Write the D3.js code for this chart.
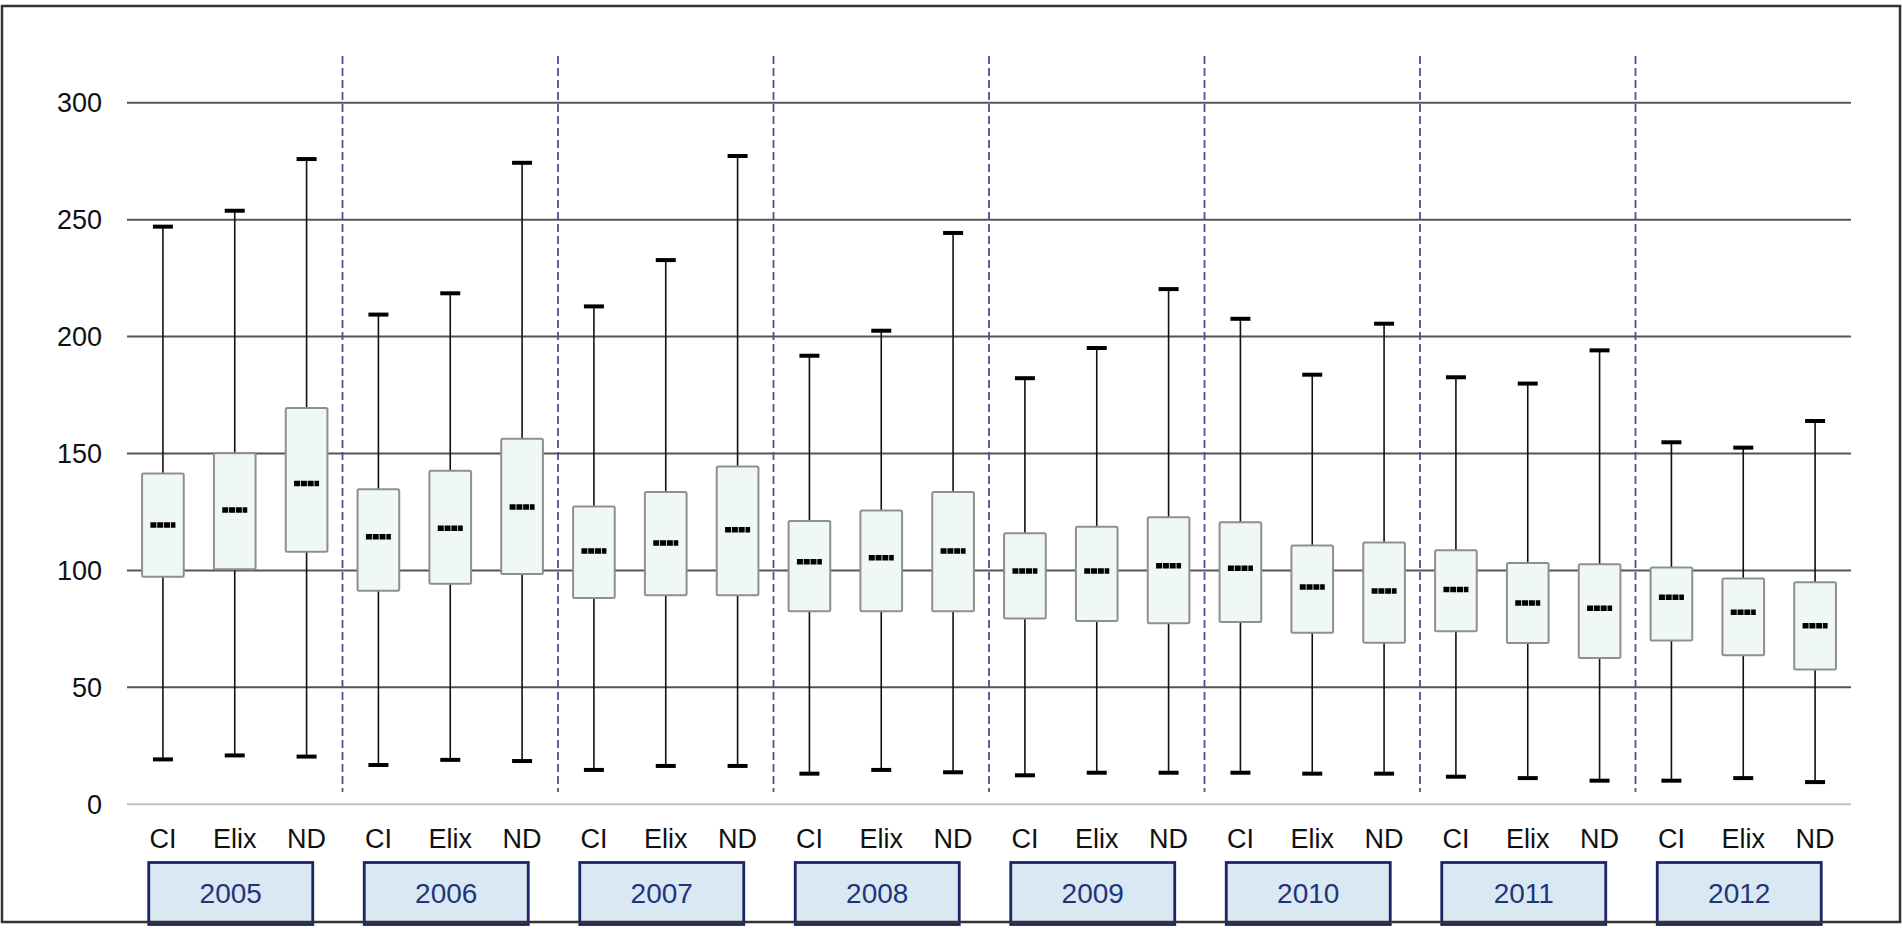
<!DOCTYPE html>
<html lang="en">
<head>
    <meta charset="UTF-8">
    <title>Box plots by year and index</title>
    <style>
        body {
            margin: 0;
            padding: 0;
            background-color: #ffffff;
            overflow: hidden;
        }
        svg {
            display: block;
            font-family: 'Liberation Sans', Arial, sans-serif;
        }
        .grid line {
            stroke: #555555;
            stroke-width: 2px;
        }
        .grid .zero {
            stroke: #c0c0c0;
        }
        .separator {
            stroke: #4f4f90;
            stroke-width: 1.8px;
            stroke-dasharray: 8 4;
        }
        .whisker {
            stroke: #111111;
            stroke-width: 1.6px;
        }
        .cap {
            stroke: #000000;
            stroke-width: 4px;
        }
        .box {
            fill: #f0f8f7;
            stroke: #8f8f8f;
            stroke-width: 2px;
        }
        .median {
            stroke: #000000;
            stroke-width: 5.5px;
            stroke-dasharray: 6 0.8;
        }
        .tick-label, .cat-label {
            font-size: 27px;
            fill: #111111;
        }
        .year-box {
            fill: #dae8f4;
            stroke: #1a2666;
            stroke-width: 2.8px;
        }
        .year-label {
            font-size: 28px;
            fill: #1f3578;
        }
    </style>
</head>
<body>
    <div id="chart"></div>

    <script src="https://d3js.org/d3.v7.min.js"></script>
    <script>
        // data
        const years = ['2005', '2006', '2007', '2008', '2009', '2010', '2011', '2012'];
        const methods = ['CI', 'Elix', 'ND'];
        const yTicks = [0, 50, 100, 150, 200, 250, 300];

        // one row per year, columns CI / Elix / ND
        const whiskerHigh = [
            [247.0, 253.8, 275.9],
            [209.4, 218.5, 274.3],
            [212.9, 232.7, 277.2],
            [191.8, 202.5, 244.3],
            [182.2, 195.1, 220.3],
            [207.6, 183.7, 205.5],
            [182.6, 179.9, 194.1],
            [154.8, 152.5, 163.9]
        ];
        const q3 = [
            [141.5, 150.1, 169.5],
            [134.7, 142.6, 156.3],
            [127.3, 133.5, 144.4],
            [121.1, 125.6, 133.5],
            [115.9, 118.7, 122.7],
            [120.6, 110.7, 111.9],
            [108.6, 103.2, 102.6],
            [101.3, 96.6, 94.9]
        ];
        const medians = [
            [119.4, 125.8, 137.2],
            [114.4, 118.0, 127.1],
            [108.3, 111.7, 117.4],
            [103.7, 105.4, 108.3],
            [99.8, 99.8, 102.0],
            [100.9, 92.9, 91.2],
            [91.8, 86.1, 83.8],
            [88.5, 82.1, 76.4]
        ];
        const q1 = [
            [97.3, 100.5, 108.0],
            [91.3, 94.3, 98.5],
            [88.2, 89.4, 89.4],
            [82.5, 82.5, 82.5],
            [79.5, 78.4, 77.4],
            [77.9, 73.4, 69.1],
            [74.0, 69.0, 62.6],
            [70.0, 63.7, 57.6]
        ];
        const whiskerLow = [
            [19.2, 20.9, 20.4],
            [16.8, 19.0, 18.5],
            [14.7, 16.4, 16.4],
            [13.1, 14.7, 13.7],
            [12.4, 13.5, 13.5],
            [13.5, 13.1, 13.1],
            [11.8, 11.2, 10.1],
            [10.1, 11.2, 9.5]
        ];

        const width = 1903;
        const height = 929;

        // flatten into one record per box
        const boxes = [];
        years.forEach((year, yi) => {
            methods.forEach((m, mi) => {
                boxes.push({
                    key: year + '-' + m,
                    year: year,
                    method: m,
                    hi: whiskerHigh[yi][mi],
                    q3: q3[yi][mi],
                    med: medians[yi][mi],
                    q1: q1[yi][mi],
                    lo: whiskerLow[yi][mi]
                });
            });
        });

        const x = d3.scaleBand()
            .domain(boxes.map(d => d.key))
            .range([127, 1851])
            .paddingInner(0.42)
            .paddingOuter(0.21);

        const xGroup = d3.scaleBand()
            .domain(years)
            .range([127, 1851]);

        const y = d3.scaleLinear()
            .domain([0, 300])
            .range([804.3, 102.7]);

        const cx = d => x(d.key) + x.bandwidth() / 2;
        const capHalf = 10;
        const medHalf = 12.5;

        const svg = d3.select('#chart')
            .append('svg')
            .attr('width', width)
            .attr('height', height);

        // horizontal gridlines
        const grid = svg.append('g').attr('class', 'grid');
        grid.selectAll('line')
            .data(yTicks)
            .enter().append('line')
            .attr('class', d => d === 0 ? 'zero' : null)
            .attr('x1', 127)
            .attr('x2', 1851)
            .attr('y1', d => y(d))
            .attr('y2', d => y(d));

        // y tick labels
        svg.append('g').selectAll('text')
            .data(yTicks)
            .enter().append('text')
            .attr('class', 'tick-label')
            .attr('x', 102)
            .attr('y', d => y(d))
            .attr('dy', '0.36em')
            .attr('text-anchor', 'end')
            .text(d => d);

        // dashed separators between years
        svg.append('g').selectAll('line')
            .data(years.slice(1))
            .enter().append('line')
            .attr('class', 'separator')
            .attr('x1', d => xGroup(d))
            .attr('x2', d => xGroup(d))
            .attr('y1', 56)
            .attr('y2', 792);

        const g = svg.append('g').selectAll('g')
            .data(boxes)
            .enter().append('g');

        g.append('line')
            .attr('class', 'whisker')
            .attr('x1', cx).attr('x2', cx)
            .attr('y1', d => y(d.hi))
            .attr('y2', d => y(d.lo));

        g.append('rect')
            .attr('class', 'box')
            .attr('x', d => x(d.key))
            .attr('width', x.bandwidth())
            .attr('y', d => y(d.q3))
            .attr('height', d => y(d.q1) - y(d.q3))
            .attr('rx', 1.5);

        g.append('line')
            .attr('class', 'median')
            .attr('x1', d => cx(d) - medHalf)
            .attr('x2', d => cx(d) + medHalf)
            .attr('y1', d => y(d.med))
            .attr('y2', d => y(d.med));

        g.append('line')
            .attr('class', 'cap')
            .attr('x1', d => cx(d) - capHalf)
            .attr('x2', d => cx(d) + capHalf)
            .attr('y1', d => y(d.hi))
            .attr('y2', d => y(d.hi));

        g.append('line')
            .attr('class', 'cap')
            .attr('x1', d => cx(d) - capHalf)
            .attr('x2', d => cx(d) + capHalf)
            .attr('y1', d => y(d.lo))
            .attr('y2', d => y(d.lo));

        // method labels
        svg.append('g').selectAll('text')
            .data(boxes)
            .enter().append('text')
            .attr('class', 'cat-label')
            .attr('x', cx)
            .attr('y', 848)
            .attr('text-anchor', 'middle')
            .text(d => d.method);

        // year boxes
        const yb = svg.append('g').selectAll('g')
            .data(years)
            .enter().append('g')
            .attr('transform', d => `translate(${xGroup(d) + xGroup.bandwidth() / 2 - 4},0)`);

        yb.append('rect')
            .attr('class', 'year-box')
            .attr('x', -82)
            .attr('width', 164)
            .attr('y', 862.5)
            .attr('height', 62);

        yb.append('text')
            .attr('class', 'year-label')
            .attr('y', 903)
            .attr('text-anchor', 'middle')
            .text(d => d);

        // outer frame
        svg.append('rect')
            .attr('x', 2)
            .attr('y', 6)
            .attr('width', 1898)
            .attr('height', 916)
            .attr('fill', 'none')
            .attr('stroke', '#333333')
            .attr('stroke-width', 2.5);
    </script>
</body>
</html>
